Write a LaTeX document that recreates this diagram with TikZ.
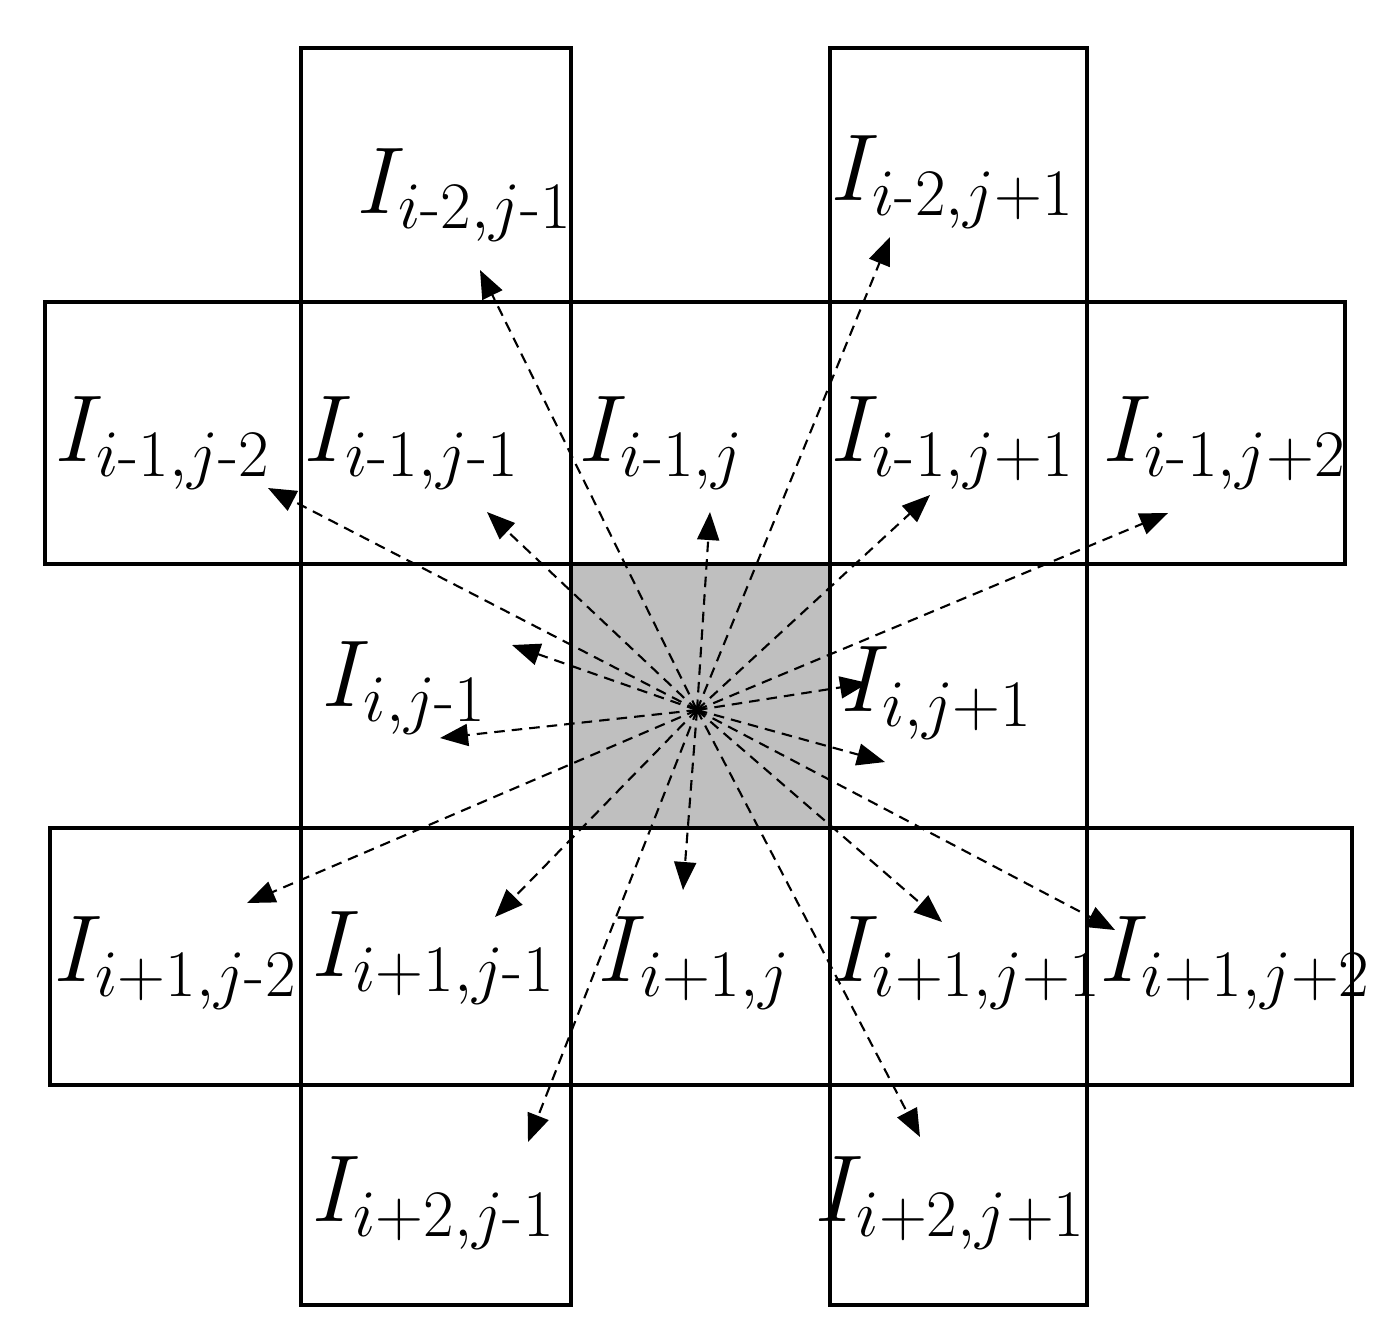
\RequirePackage{fix-cm}
\documentclass[tikz,border=0pt]{standalone}
\usepackage{amsmath}
\usetikzlibrary{arrows.meta}
\newcommand{\hy}{\text{-}}
\begin{document}
\begin{tikzpicture}[x=0.01cm,y=-0.01cm,
    cell/.style={draw,line width=1.3pt},
    ray/.style={dash pattern=on 3pt off 2pt,line width=0.6pt,
                -{Triangle[length=0.28cm,width=0.22cm]}},
    lab/.style={font=\fontsize{27}{30}\selectfont,inner sep=0pt}]
    \useasboundingbox (0,0) rectangle (1398,1341);

    % centre cell
    \fill[gray!50] (571,564) rectangle (830,828);

    % rays
    \coordinate (c) at (697,710);
    \coordinate (tm2m1) at (480,270);
    \coordinate (tm2p1) at (890,237);
    \coordinate (tm1m2) at (268,488);
    \coordinate (tm1m1) at (487,512);
    \coordinate (tm1z)  at (710,512);
    \coordinate (tm1p1) at (930,495);
    \coordinate (tm1p2) at (1168,513);
    \coordinate (tzm1a) at (512,645);
    \coordinate (tzm1)  at (440,738);
    \coordinate (tzp1a) at (868,683);
    \coordinate (tzp1)  at (885,762);
    \coordinate (tp1m2) at (247,903);
    \coordinate (tp1m1) at (495,917);
    \coordinate (tp1z)  at (683,890);
    \coordinate (tp1p1) at (942,922);
    \coordinate (tp1p2) at (1115,930);
    \coordinate (tp2m1) at (528,1142);
    \coordinate (tp2p1) at (920,1137);
    \foreach \t in {tm2m1,tm2p1,tm1m2,tm1m1,tm1z,tm1p1,tm1p2,tzm1a,tzm1,
                    tzp1a,tzp1,tp1m2,tp1m1,tp1z,tp1p1,tp1p2,tp2m1,tp2p1}
        \draw[ray] (c) -- (\t);

    % cells
    \draw[cell] (301,48) rectangle (571,302);
    \draw[cell] (830,48) rectangle (1087,302);

    \draw[cell] (45,302) rectangle (301,564);
    \draw[cell] (301,302) rectangle (571,564);
    \draw[cell] (571,302) rectangle (830,564);
    \draw[cell] (830,302) rectangle (1087,564);
    \draw[cell] (1087,302) rectangle (1345,564);

    \draw[cell] (301,564) rectangle (571,828);
    \draw[cell] (571,564) rectangle (830,828);
    \draw[cell] (830,564) rectangle (1087,828);

    \draw[cell] (50,828) rectangle (301,1085);
    \draw[cell] (301,828) rectangle (571,1085);
    \draw[cell] (571,828) rectangle (830,1085);
    \draw[cell] (830,828) rectangle (1087,1085);
    \draw[cell] (1087,828) rectangle (1352,1085);

    \draw[cell] (301,1085) rectangle (571,1305);
    \draw[cell] (830,1085) rectangle (1087,1305);

    % labels
    \node[lab] (Lm2m1) at (465,195) {$I_{i\hy2,j\hy1}$};
    \node[lab] (Lm2p1) at (953,182) {$I_{i\hy2,j+1}$};
    \node[lab] (Lm1m2) at (163,443) {$I_{i\hy1,j\hy2}$};
    \node[lab] (Lm1m1) at (412,443) {$I_{i\hy1,j\hy1}$};
    \node[lab] (Lm1z)  at (662,443) {$I_{i\hy1,j}$};
    \node[lab] (Lm1p1) at (953,443) {$I_{i\hy1,j+1}$};
    \node[lab] (Lm1p2) at (1225,443) {$I_{i\hy1,j+2}$};
    \node[lab] (Lzm1)  at (405,688) {$I_{i,j\hy1}$};
    \node[lab] (Lzp1)  at (937,693) {$I_{i,j+1}$};
    \node[lab] (Lp1m2) at (176,963) {$I_{i+1,j\hy2}$};
    \node[lab] (Lp1m1) at (434,958) {$I_{i+1,j\hy1}$};
    \node[lab] (Lp1z)  at (695,963) {$I_{i+1,j}$};
    \node[lab] (Lp1p1) at (967,963) {$I_{i+1,j+1}$};
    \node[lab] (Lp1p2) at (1236,963) {$I_{i+1,j+2}$};
    \node[lab] (Lp2m1) at (434,1203) {$I_{i+2,j\hy1}$};
    \node[lab] (Lp2p1) at (951,1203) {$I_{i+2,j+1}$};
\end{tikzpicture}
\end{document}
